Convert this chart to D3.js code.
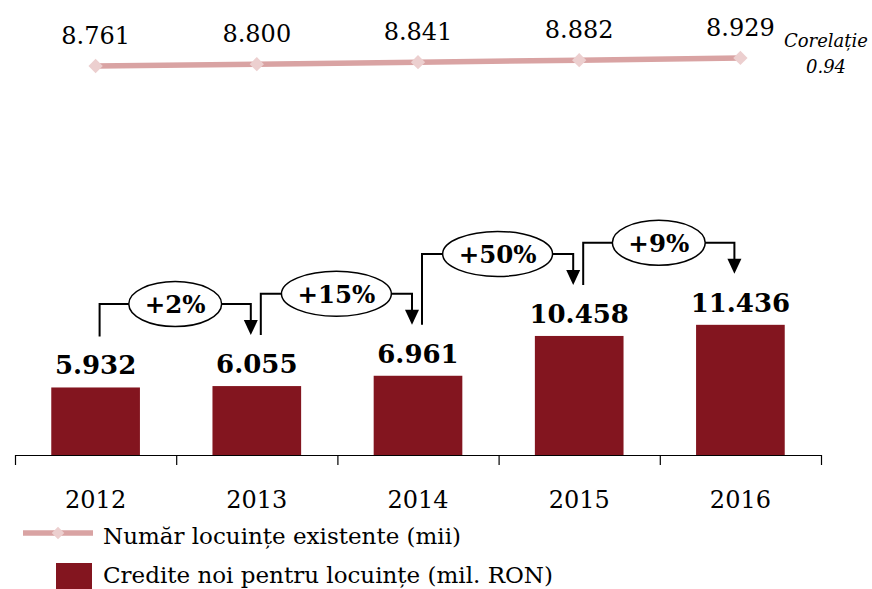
<!DOCTYPE html>
<html>
<head>
<meta charset="utf-8">
<script src="https://cdn.jsdelivr.net/npm/d3@7"></script>
<style>
  body { margin: 0; background: #fff; }
  svg { display: block; font-family: "DejaVu Serif", Georgia, serif; }
</style>
</head>
<body>
<div id="chart"></div>
<script>
var years = ['2012', '2013', '2014', '2015', '2016'];
var credite = [5932, 6055, 6961, 10458, 11436];
var locuinte = [8761, 8800, 8841, 8882, 8929];
var corelatie = 0.94;
var legendLabels = ['Număr locuințe existente (mii)', 'Credite noi pentru locuințe (mil. RON)'];

var width = 872, height = 589;
var barColor = '#83151f', lineColor = '#d9a3a3', markerColor = '#eccfcf';

var ro = d3.formatLocale({decimal: ',', thousands: '.', grouping: [3], currency: ['', ' RON']});
var fmtThousands = ro.format(',');
var fmtPct = d3.format('+.0%');

var svg = d3.select('#chart').append('svg')
    .attr('width', width)
    .attr('height', height);

var axisY = 455;

var x = d3.scaleBand()
    .domain(years)
    .range([15, 821])
    .paddingInner(0.45)
    .paddingOuter(0.225);

var xEdge = d3.scaleLinear()
    .domain([0, years.length])
    .range(x.range());

var y = d3.scaleLinear()
    .domain([0, 12000])
    .range([axisY, 318.4]);

var yLine = d3.scaleLinear()
    .domain([8700, 9000])
    .range([68.9, 54.6]);

function cx(i) { return x(years[i]) + x.bandwidth() / 2; }

// bars
svg.append('g')
    .selectAll('rect')
    .data(credite)
    .enter().append('rect')
    .attr('x', function(d, i) { return x(years[i]); })
    .attr('y', function(d) { return y(d); })
    .attr('width', x.bandwidth())
    .attr('height', function(d) { return axisY - y(d); })
    .attr('fill', barColor);

svg.append('g')
    .selectAll('text')
    .data(credite)
    .enter().append('text')
    .attr('x', function(d, i) { return cx(i); })
    .attr('y', function(d) { return y(d) - 13; })
    .attr('text-anchor', 'middle')
    .attr('font-weight', 'bold')
    .attr('font-size', 26)
    .text(function(d) { return fmtThousands(d); });

// axis with ticks on band edges
svg.append('g')
    .attr('transform', 'translate(0,' + axisY + ')')
    .call(d3.axisBottom(xEdge).ticks(years.length).tickSize(10).tickSizeOuter(0).tickFormat(''))
    .call(function(g) {
        g.selectAll('path, line').attr('stroke', '#000').attr('stroke-width', 1.2);
    });

svg.append('g')
    .attr('transform', 'translate(0,' + axisY + ')')
    .call(d3.axisBottom(x).tickSize(0).tickPadding(53))
    .call(function(g) {
        g.select('.domain').remove();
        g.selectAll('text')
            .attr('font-family', '"DejaVu Serif", serif')
            .attr('font-size', 24)
            .attr('fill', '#000')
            .attr('dy', 0);
    });

// growth arrows
var arrows = d3.range(years.length - 1).map(function(i) {
    var top = y(Math.max(credite[i], credite[i + 1]));
    return {
        x0: cx(i) + 4,
        x1: cx(i + 1) - 6,
        y0: y(credite[i]) - 51,
        y1: y(credite[i + 1]) - 51,
        yh: top - 82,
        label: fmtPct(credite[i + 1] / credite[i] - 1)
    };
});

var ag = svg.append('g').selectAll('g')
    .data(arrows)
    .enter().append('g');

ag.append('path')
    .attr('fill', 'none')
    .attr('stroke', '#000')
    .attr('stroke-width', 2)
    .attr('d', function(d) {
        return 'M' + d.x0 + ',' + d.y0 + 'V' + d.yh + 'H' + d.x1 + 'V' + (d.y1 - 12);
    });

ag.append('path')
    .attr('fill', '#000')
    .attr('d', function(d) {
        return 'M' + (d.x1 - 7) + ',' + (d.y1 - 15) + 'L' + (d.x1 + 7) + ',' + (d.y1 - 15) + 'L' + d.x1 + ',' + d.y1 + 'Z';
    });

var ellipses = ag.append('ellipse')
    .attr('cx', function(d) { return (d.x0 + d.x1) / 2; })
    .attr('cy', function(d) { return d.yh; })
    .attr('ry', 22.5)
    .attr('fill', '#fff')
    .attr('stroke', '#000')
    .attr('stroke-width', 1.5);

var pctText = ag.append('text')
    .attr('x', function(d) { return (d.x0 + d.x1) / 2; })
    .attr('y', function(d) { return d.yh; })
    .attr('dy', '0.36em')
    .attr('text-anchor', 'middle')
    .attr('font-weight', 'bold')
    .attr('font-size', 24.5)
    .text(function(d) { return d.label; });

pctText.each(function(d) { d.tw = this.getComputedTextLength(); });
ellipses.attr('rx', function(d) { return d.tw / 2 + 16; });

// line series
var line = d3.line()
    .x(function(d, i) { return cx(i); })
    .y(function(d) { return yLine(d); });

svg.append('path')
    .datum(locuinte)
    .attr('fill', 'none')
    .attr('stroke', lineColor)
    .attr('stroke-width', 5.5)
    .attr('d', line);

var diamond = d3.symbol().type(d3.symbolDiamond2).size(130);

svg.append('g')
    .selectAll('path')
    .data(locuinte)
    .enter().append('path')
    .attr('transform', function(d, i) { return 'translate(' + cx(i) + ',' + yLine(d) + ')'; })
    .attr('fill', markerColor)
    .attr('d', diamond);

svg.append('g')
    .selectAll('text')
    .data(locuinte)
    .enter().append('text')
    .attr('x', function(d, i) { return cx(i); })
    .attr('y', function(d) { return yLine(d) - 22; })
    .attr('text-anchor', 'middle')
    .attr('font-size', 24)
    .text(function(d) { return fmtThousands(d); });

var corr = svg.append('text')
    .attr('text-anchor', 'middle')
    .attr('font-style', 'italic')
    .attr('font-size', 18);
corr.append('tspan').attr('x', 826).attr('y', 47).text('Corelație');
corr.append('tspan').attr('x', 826).attr('y', 73).text(ro.format('.2f')(corelatie).replace(',', '.'));

// legend
var lg = svg.append('g');
lg.append('line')
    .attr('x1', 23).attr('x2', 93)
    .attr('y1', 533).attr('y2', 533)
    .attr('stroke', lineColor)
    .attr('stroke-width', 5.5);
lg.append('path')
    .attr('transform', 'translate(58,533)')
    .attr('fill', markerColor)
    .attr('d', d3.symbol().type(d3.symbolDiamond2).size(100));
lg.append('rect')
    .attr('x', 56).attr('y', 563)
    .attr('width', 36).attr('height', 36)
    .attr('fill', barColor);

lg.selectAll('text')
    .data(legendLabels)
    .enter().append('text')
    .attr('x', 103)
    .attr('y', function(d, i) { return i === 0 ? 544 : 583; })
    .attr('font-size', 23)
    .text(function(d) { return d; });
</script>
</body>
</html>
